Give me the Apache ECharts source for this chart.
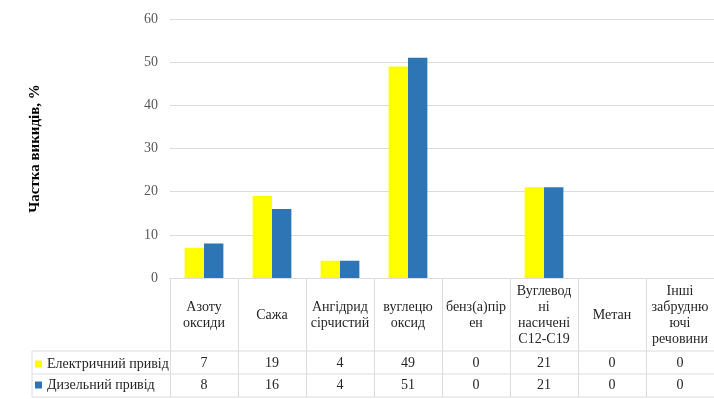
<!DOCTYPE html>
<html>
<head>
<meta charset="utf-8">
<style>
  html, body { margin: 0; padding: 0; background: #fff; }
  #chart { width: 714px; height: 399px; }
</style>
<script src="https://cdn.jsdelivr.net/npm/echarts@6/dist/echarts.min.js"></script>
</head>
<body>
<div id="chart"></div>
<script>
// Pollutant categories (header row of the data table)
const categories = [
  'Азоту\nоксиди',
  'Сажа',
  'Ангідрид\nсірчистий',
  'вуглецю\nоксид',
  'бенз(а)пір\nен',
  'Вуглевод\nні\nнасичені\nC12-C19',
  'Метан',
  'Інші\nзабрудню\nючі\nречовини'
];
const seriesNames = ['Електричний привід', 'Дизельний привід'];
const electricValues = [7, 19, 4, 49, 0, 21, 0, 0];
const dieselValues = [8, 16, 4, 51, 0, 21, 0, 0];
const yTicks = { min: 0, max: 60, interval: 10 };

const FONT = '"Liberation Serif", "Times New Roman", serif';
const LINE = '#d9dce1';
const TEXT = '#262626';

// Table geometry (offsets below the category axis)
const HEADER_H = 73, ROW1_H = 23, ROW2_H = 23, LEGEND_COL_W = 138;

function renderTable(params, api) {
  const i = api.value(0);
  const p = api.coord([i, 0]);
  const w = api.size([1, 0])[0];
  const x0 = p[0] - w / 2, x1 = p[0] + w / 2;
  const base = p[1];
  const yA = base + HEADER_H, yB = yA + ROW1_H, yC = yB + ROW2_H;
  const left = i === 0 ? x0 - LEGEND_COL_W : x0;
  const line = (xa, ya, xb, yb) => ({
    type: 'line',
    shape: { x1: xa, y1: ya, x2: xb, y2: yb },
    style: { stroke: LINE, lineWidth: 1 }
  });
  const text = (t, y) => ({
    type: 'text',
    style: {
      text: String(t), x: p[0], y: y,
      align: 'center', verticalAlign: 'middle',
      font: '14px ' + FONT, fill: TEXT
    }
  });
  const children = [
    line(left, yA, x1, yA),
    line(left, yB, x1, yB),
    line(left, yC, x1, yC),
    text(electricValues[i], (yA + yB) / 2 + 1),
    text(dieselValues[i], (yB + yC) / 2)
  ];
  if (i === 0) children.push(line(left, yA, left, yC));
  return { type: 'group', children: children };
}

// One legend entry per table row
function rowLegend(name, top) {
  return {
    data: [name],
    left: 35,
    top: top,
    padding: 0,
    itemWidth: 7,
    itemHeight: 7,
    itemGap: 0,
    icon: 'rect',
    textStyle: { fontFamily: FONT, fontSize: 14, color: TEXT },
    itemStyle: { borderWidth: 0 }
  };
}

const chart = echarts.init(document.getElementById('chart'));
chart.setOption({
  animation: false,
  grid: { left: 170, right: 0, top: 19, bottom: 121, containLabel: false },
  legend: [rowLegend(seriesNames[0], 357), rowLegend(seriesNames[1], 378)],
  xAxis: {
    type: 'category',
    data: categories,
    axisLine: { show: true, lineStyle: { color: LINE } },
    axisTick: { show: true, interval: 0, length: HEADER_H + ROW1_H + ROW2_H, lineStyle: { color: LINE } },
    axisLabel: {
      interval: 0,
      margin: 37,
      verticalAlign: 'middle',
      fontFamily: FONT,
      fontSize: 14,
      lineHeight: 16,
      color: TEXT
    }
  },
  yAxis: {
    type: 'value',
    min: yTicks.min,
    max: yTicks.max,
    interval: yTicks.interval,
    name: 'Частка викидів, %',
    nameLocation: 'middle',
    nameGap: 127,
    nameRotate: 90,
    nameTextStyle: { fontFamily: FONT, fontSize: 15, fontWeight: 'bold', color: '#000' },
    axisLine: { show: false },
    axisTick: { show: false },
    axisLabel: { margin: 12, fontFamily: FONT, fontSize: 14, color: '#595959' },
    splitLine: { lineStyle: { color: LINE } }
  },
  series: [
    {
      name: seriesNames[0],
      type: 'bar',
      data: electricValues,
      barGap: '0%',
      barCategoryGap: '43%',
      itemStyle: { color: '#FFFF00' }
    },
    {
      name: seriesNames[1],
      type: 'bar',
      data: dieselValues,
      itemStyle: { color: '#2E75B6' }
    },
    {
      type: 'custom',
      renderItem: renderTable,
      clip: false,
      silent: true,
      encode: { x: 0, y: 1 },
      data: categories.map((c, i) => [i, 0]),
      z: 1
    }
  ]
});
</script>
</body>
</html>
